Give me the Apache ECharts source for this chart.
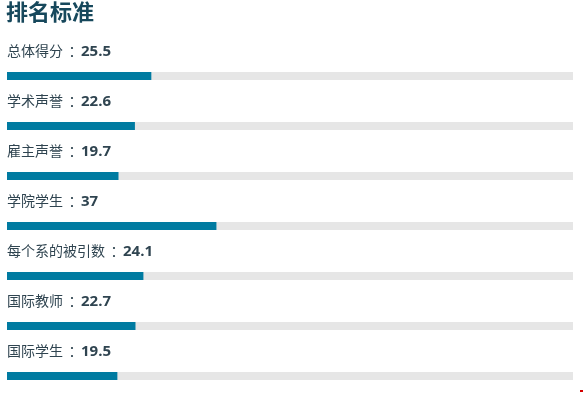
<!DOCTYPE html>
<html><head><meta charset="utf-8">
<script src="https://cdn.jsdelivr.net/npm/echarts@6/dist/echarts.min.js"></script>
<style>html,body{margin:0;padding:0;background:#fff}#c{width:583px;height:393px}</style>
</head><body><div id="c"></div>
<script>
const titleText = '排名标准';
const categories = ['总体得分', '学术声誉', '雇主声誉', '学院学生', '每个系的被引数', '国际教师', '国际学生'];
const values = [25.5, 22.6, 19.7, 37, 24.1, 22.7, 19.5];
const maxValue = 100;

const FONT = '"Open Sans","Noto Sans CJK SC",sans-serif';
const chart = echarts.init(document.getElementById('c'));
chart.setOption({
  animation: false,
  title: {
    text: titleText, left: 6, top: 3, padding: 0,
    textStyle: { fontSize: 22, fontWeight: 'bold', color: '#17485c', fontFamily: FONT }
  },
  grid: { left: 7, right: 10, top: 51, height: 350, outerBoundsMode: 'none', containLabel: false },
  xAxis: { type: 'value', min: 0, max: maxValue, show: false },
  yAxis: { type: 'category', data: categories, inverse: true, show: false },
  series: [{
    type: 'bar',
    data: values,
    barWidth: 8,
    clip: false,
    showBackground: true,
    backgroundStyle: { color: '#e6e6e6' },
    itemStyle: { color: '#007ba1' },
    label: {
      show: true,
      position: [0, -20],
      align: 'left',
      verticalAlign: 'middle',
      formatter: p => '{a|' + categories[p.dataIndex] + '}{c|：}{b|' + values[p.dataIndex] + '}',
      rich: {
        a: { fontSize: 14, color: '#2f4450', fontFamily: FONT },
        c: { fontSize: 14, width: 18, align: 'right', color: '#2f4450', fontFamily: '"Noto Sans CJK TC",sans-serif' },
        b: { fontSize: 15, fontWeight: 'bold', color: '#2f4450', fontFamily: FONT }
      }
    }
  }],
  graphic: [{ type: 'rect', shape: { x: 580, y: 390, width: 3, height: 2 }, style: { fill: '#d40000' } }]
});
</script></body></html>
